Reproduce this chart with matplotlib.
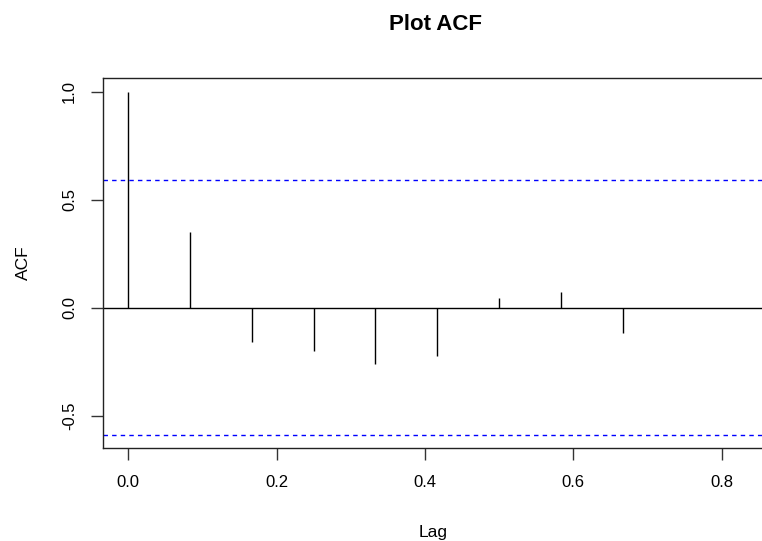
import numpy as np
import matplotlib.pyplot as plt

# lags are in years (monthly series, frequency 12)
lags = np.arange(9) / 12
acf_vals = [1.0, 0.348, -0.160, -0.203, -0.259, -0.226, 0.043, 0.073, -0.120]
n_obs = 11
ci = 1.96 / np.sqrt(n_obs)

xticks = [0.0, 0.2, 0.4, 0.6, 0.8]
yticks = [-0.5, 0.0, 0.5, 1.0]

plt.rcParams['font.family'] = ['Liberation Sans', 'DejaVu Sans']

fig = plt.figure(figsize=(7.62, 5.41), dpi=100)
ax = fig.add_axes([103 / 762, 1 - 448 / 541, 666 / 762, 370 / 541])

# vertical spikes
ax.vlines(lags, 0, acf_vals, color='black', lw=1.0)
ax.axhline(0, color='black', lw=1.0)
for c in (ci, -ci):
    ax.axhline(c, color='#0000FF', lw=1.0, ls=(0, (3.2, 3.0)))

ax.set_xlim(-0.0341, 0.864)
ax.set_ylim(-0.650, 1.0625)
ax.set_xticks(xticks)
ax.set_xticklabels([f"{v:.1f}" for v in xticks])
ax.set_yticks(yticks)
ax.set_yticklabels([f"{v:.1f}" for v in yticks], rotation=90, va='center')

ax.tick_params(direction='out', length=8.6, width=1.0, labelsize=12, color='#333333')
ax.tick_params(axis='x', pad=11)
ax.tick_params(axis='y', pad=10)
for s in ax.spines.values():
    s.set_linewidth(1.0)
    s.set_color('#222222')

ax.set_xlabel('Lag', fontsize=12.5, va='center')
ax.xaxis.set_label_coords(0.5 - 3 / 666, -(532 - 448) / 370)
ax.set_ylabel('ACF', fontsize=12.5, va='center')
ax.yaxis.set_label_coords(-(103 - 23) / 666, 0.5)
ax.set_title('Plot ACF', fontsize=16, fontweight='bold', y=(448 - 24) / 370, va='center', pad=0)

fig.savefig('out.png', dpi=100)
